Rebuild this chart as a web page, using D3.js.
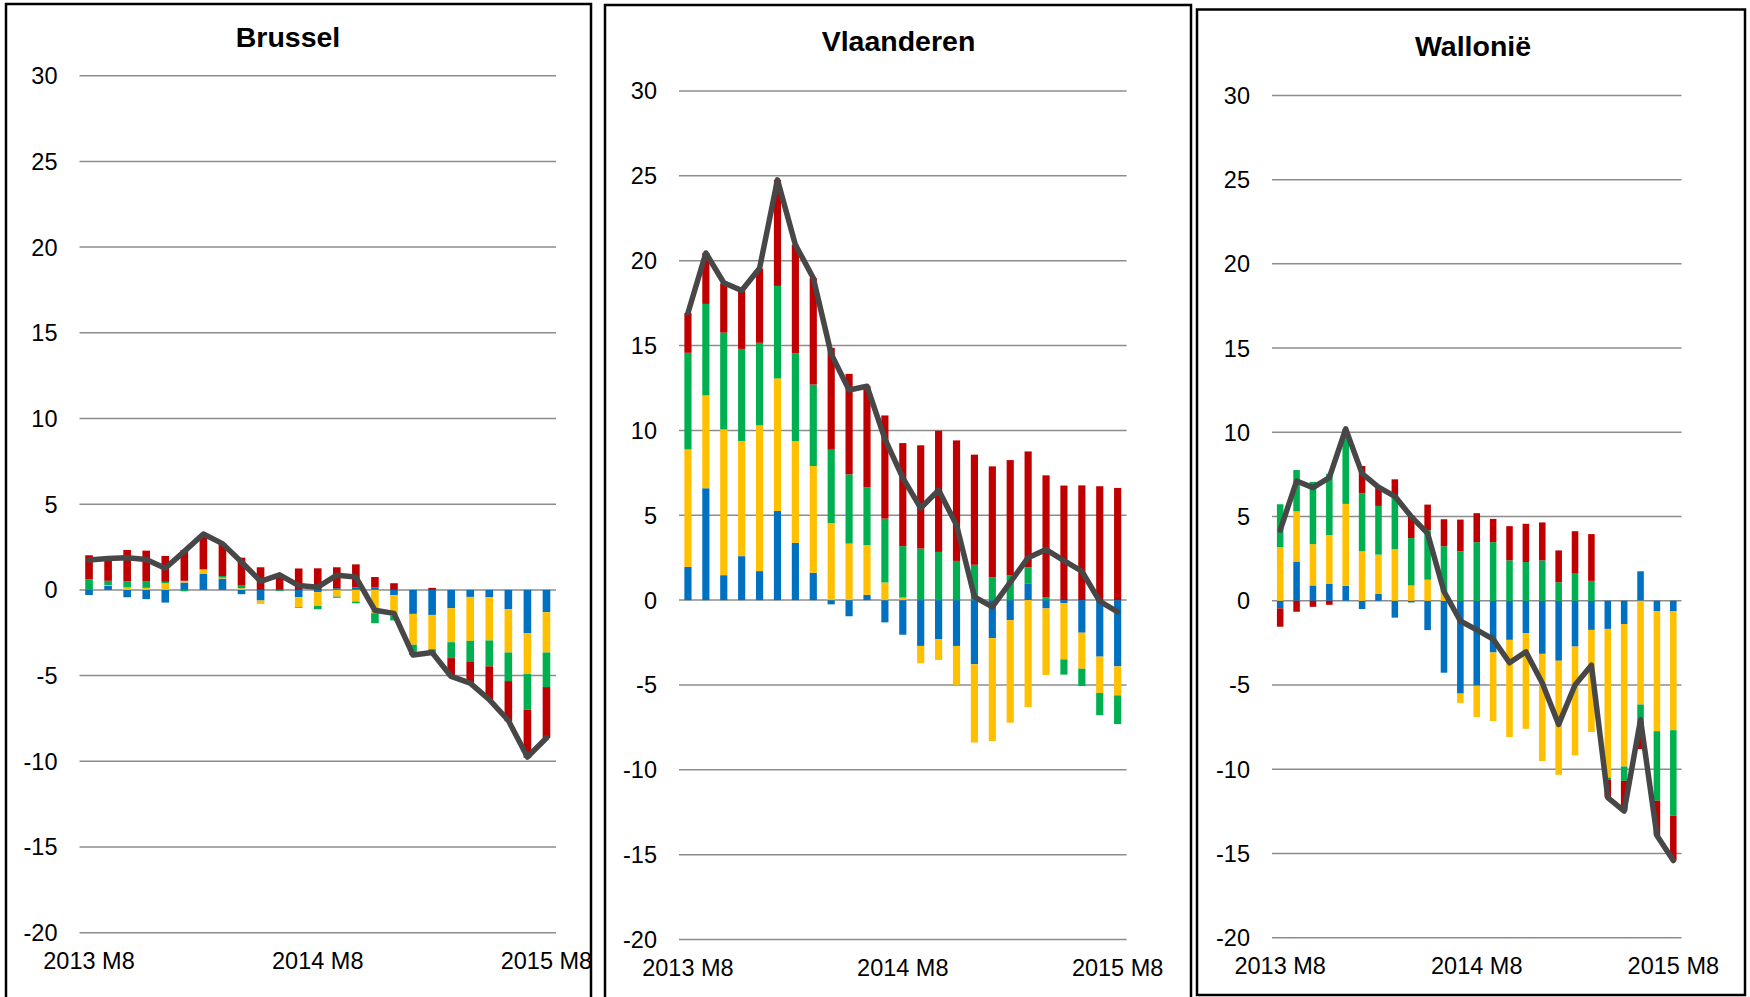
<!DOCTYPE html>
<html>
<head>
<meta charset="utf-8">
<script src="https://cdn.jsdelivr.net/npm/d3@7"></script>
<style>
  body { margin: 0; background: #fff; }
  svg { display: block; font-family: "Liberation Sans", Arial, sans-serif; }
</style>
</head>
<body>
<svg id="chart" width="1750" height="997"></svg>
<script>
// Categories and tick labels
const months = [
    '2013 M8', '2013 M9', '2013 M10', '2013 M11', '2013 M12',
    '2014 M1', '2014 M2', '2014 M3', '2014 M4', '2014 M5', '2014 M6', '2014 M7',
    '2014 M8', '2014 M9', '2014 M10', '2014 M11', '2014 M12',
    '2015 M1', '2015 M2', '2015 M3', '2015 M4', '2015 M5', '2015 M6', '2015 M7',
    '2015 M8'
];
const yTicks = [30, 25, 20, 15, 10, 5, 0, -5, -10, -15, -20];
const xTickLabels = ['2013 M8', '2014 M8', '2015 M8'];

const seriesKeys = ['blauw', 'geel', 'groen', 'rood'];
const seriesColors = ['#0070C0', '#FFC000', '#00B050', '#C00000'];

// Brussel
const brusselBlue   = [-0.30, 0.23, -0.43, -0.54, -0.74, 0.43, 0.93, 0.66, -0.25, -0.62, 0.00, -0.43, -0.13, 0.10, 0.15, 0.15, -0.31, -1.40, -1.46, -1.07, -0.41, -0.43, -1.13, -2.52, -1.30];
const brusselYellow = [0.00, 0.05, 0.15, 0.12, 0.39, 0.10, 0.27, 0.05, 0.10, -0.20, 0.00, -0.58, -0.80, -0.39, -0.68, -1.36, -1.20, -1.80, -2.00, -1.98, -2.56, -2.52, -2.52, -2.39, -2.35];
const brusselGreen  = [0.62, 0.25, 0.35, 0.39, 0.08, -0.08, 0.00, 0.10, 0.15, 0.00, -0.05, -0.04, -0.20, -0.07, -0.10, -0.58, -0.27, -0.45, -0.29, -0.93, -1.20, -1.51, -1.67, -2.08, -2.02];
const brusselRed    = [1.40, 1.30, 1.83, 1.78, 1.51, 1.80, 2.06, 1.90, 1.63, 1.32, 0.93, 1.25, 1.26, 1.22, 1.34, 0.60, 0.39, -0.15, 0.12, -1.07, -1.26, -1.94, -2.35, -2.80, -2.97];
const brusselTotal  = [1.75, 1.83, 1.88, 1.78, 1.26, 2.25, 3.26, 2.70, 1.63, 0.50, 0.88, 0.25, 0.16, 0.86, 0.75, -1.19, -1.37, -3.80, -3.65, -5.05, -5.44, -6.40, -7.62, -9.75, -8.64];

// Vlaanderen
const vlaanderenBlue   = [1.96, 6.59, 1.47, 2.59, 1.71, 5.25, 3.37, 1.61, -0.25, -0.95, 0.31, -1.31, -2.04, -2.70, -2.31, -2.70, -3.78, -2.24, -1.18, 0.96, -0.49, -0.18, -1.92, -3.33, -3.90];
const vlaanderenYellow = [6.92, 5.47, 8.59, 6.78, 8.58, 7.81, 6.00, 6.29, 4.53, 3.33, 2.93, 1.04, 0.15, -1.02, -1.22, -2.29, -4.61, -6.06, -6.04, -6.31, -3.92, -3.31, -2.12, -2.14, -1.71];
const vlaanderenGreen  = [5.69, 5.39, 5.70, 5.43, 4.87, 5.45, 5.18, 4.80, 4.33, 4.08, 3.41, 3.76, 3.03, 3.04, 2.84, 2.31, 2.08, 1.35, 1.45, 0.98, 0.18, -0.90, -1.02, -1.31, -1.69];
const vlaanderenRed    = [2.35, 3.00, 2.90, 3.44, 4.37, 6.25, 6.39, 6.28, 6.00, 5.92, 5.95, 6.08, 6.07, 6.08, 7.14, 7.10, 6.49, 6.53, 6.80, 6.82, 7.17, 6.75, 6.76, 6.71, 6.61];
const vlaanderenTotal  = [16.92, 20.45, 18.70, 18.24, 19.55, 24.76, 20.94, 18.98, 14.50, 12.38, 12.60, 9.50, 7.20, 5.42, 6.48, 4.43, 0.19, -0.40, 1.05, 2.50, 2.98, 2.33, 1.70, -0.07, -0.69];

// Wallonië
const wallonieBlue   = [-0.45, 2.33, 0.91, 1.00, 0.89, -0.49, 0.41, -1.00, -0.10, -1.74, -4.27, -5.51, -5.04, -3.07, -2.32, -1.93, -3.15, -3.56, -2.72, -1.73, -1.67, -1.38, 1.75, -0.61, -0.63];
const wallonieYellow = [3.18, 2.98, 2.45, 2.90, 4.86, 2.94, 2.33, 3.06, 0.91, 1.25, 0.53, -0.55, -1.87, -4.07, -5.77, -5.67, -6.36, -6.77, -6.46, -6.06, -8.82, -8.46, -6.16, -7.13, -7.05];
const wallonieGreen  = [2.55, 2.45, 3.70, 3.64, 4.45, 3.44, 2.89, 3.10, 2.81, 2.94, 2.71, 2.93, 3.48, 3.48, 2.40, 2.30, 2.40, 1.10, 1.61, 1.18, -0.14, -0.85, -1.04, -4.13, -5.08];
const wallonieRed    = [-1.09, -0.65, -0.36, -0.24, 0.00, 1.62, 1.10, 1.05, 1.36, 1.52, 1.60, 1.89, 1.72, 1.38, 2.03, 2.27, 2.25, 1.89, 2.52, 2.78, -1.04, -1.77, -1.61, -2.07, -2.66];
const wallonieTotal  = [4.19, 7.11, 6.72, 7.31, 10.20, 7.55, 6.75, 6.20, 5.00, 4.00, 0.55, -1.20, -1.73, -2.28, -3.68, -3.03, -4.88, -7.34, -5.00, -3.82, -11.68, -12.48, -7.06, -13.94, -15.42];

// Panel layout (positions only)
const panels = [
    { title: 'Brussel', series: [brusselBlue, brusselYellow, brusselGreen, brusselRed], total: brusselTotal,
      frame: [6, 4, 591, 1020], plotX: [79.5, 556], plotY: [75.7, 932.7], titleX: 288, titleY: 46.5, labelDy: 36 },
    { title: 'Vlaanderen', series: [vlaanderenBlue, vlaanderenYellow, vlaanderenGreen, vlaanderenRed], total: vlaanderenTotal,
      frame: [605, 5, 1191, 1020], plotX: [679, 1126.6], plotY: [90.9, 939.6], titleX: 898.5, titleY: 51, labelDy: 36 },
    { title: 'Wallonië', series: [wallonieBlue, wallonieYellow, wallonieGreen, wallonieRed], total: wallonieTotal,
      frame: [1197, 9.5, 1745, 995], plotX: [1272, 1681.5], plotY: [95.4, 937.7], titleX: 1473, titleY: 55.5, labelDy: 36 }
];

const svg = d3.select('#chart');

function drawPanel(p) {
    const g = svg.append('g');

    // Frame
    g.append('rect')
        .attr('x', p.frame[0])
        .attr('y', p.frame[1])
        .attr('width', p.frame[2] - p.frame[0])
        .attr('height', p.frame[3] - p.frame[1])
        .attr('fill', 'none')
        .attr('stroke', '#000')
        .attr('stroke-width', 2.5);

    const x = d3.scaleBand()
        .domain(months)
        .range(p.plotX)
        .paddingInner(0.6)
        .paddingOuter(0.3);

    const y = d3.scaleLinear()
        .domain([30, -20])
        .range(p.plotY);

    // Gridlines
    g.append('g')
        .selectAll('line')
        .data(yTicks)
        .join('line')
        .attr('x1', p.plotX[0])
        .attr('x2', p.plotX[1])
        .attr('y1', d => y(d))
        .attr('y2', d => y(d))
        .attr('stroke', '#8c8c8c')
        .attr('stroke-width', 1.5);

    // Y tick labels
    g.append('g')
        .selectAll('text')
        .data(yTicks)
        .join('text')
        .attr('x', p.plotX[0] - 22)
        .attr('y', d => y(d))
        .attr('dy', '0.36em')
        .attr('text-anchor', 'end')
        .attr('font-size', 23.5)
        .attr('fill', '#000')
        .text(d => d);

    // Stacked bars (positives up, negatives down)
    const rows = months.map((m, i) => {
        const row = { month: m };
        seriesKeys.forEach((k, j) => { row[k] = p.series[j][i]; });
        return row;
    });
    const stacked = d3.stack()
        .keys(seriesKeys)
        .offset(d3.stackOffsetDiverging)(rows);

    g.append('g')
        .selectAll('g')
        .data(stacked)
        .join('g')
        .attr('fill', (d, i) => seriesColors[i])
        .selectAll('rect')
        .data(d => d)
        .join('rect')
        .attr('x', d => x(d.data.month))
        .attr('width', x.bandwidth())
        .attr('y', d => y(Math.max(d[0], d[1])))
        .attr('height', d => Math.abs(y(d[0]) - y(d[1])));

    // Total line
    const line = d3.line()
        .x((d, i) => x(months[i]) + x.bandwidth() / 2)
        .y(d => y(d));

    g.append('path')
        .datum(p.total)
        .attr('d', line)
        .attr('fill', 'none')
        .attr('stroke', '#474747')
        .attr('stroke-width', 5.5)
        .attr('stroke-linejoin', 'round')
        .attr('stroke-linecap', 'round');

    // X tick labels
    g.append('g')
        .selectAll('text')
        .data(xTickLabels)
        .join('text')
        .attr('x', d => x(d) + x.bandwidth() / 2)
        .attr('y', p.plotY[1] + p.labelDy)
        .attr('text-anchor', 'middle')
        .attr('font-size', 23.5)
        .attr('fill', '#000')
        .text(d => d);

    // Title
    g.append('text')
        .attr('x', p.titleX)
        .attr('y', p.titleY)
        .attr('text-anchor', 'middle')
        .attr('font-size', 28.5)
        .attr('font-weight', 'bold')
        .attr('fill', '#000')
        .text(p.title);
}

panels.forEach(drawPanel);
</script>
</body>
</html>
